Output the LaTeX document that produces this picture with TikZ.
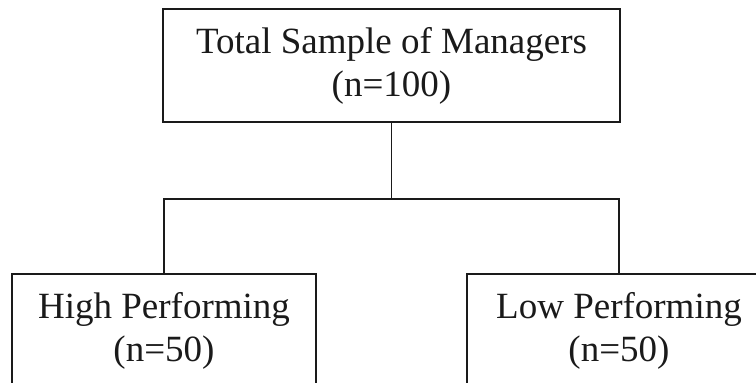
\documentclass[tikz,border=0pt]{standalone}
\usepackage{fontspec}
\setmainfont{Liberation Serif}
\usepackage{tikz}
\usetikzlibrary{positioning,calc}
\definecolor{Ink}{HTML}{1A1A1A}

\begin{document}
\begin{tikzpicture}[
  x=1pt,y=1pt,
  box/.style={draw=Ink,line width=1.8pt,inner sep=0pt,minimum height=113pt,align=center,text=Ink,font=\fontsize{37}{43}\selectfont},
  rootbox/.style={box,minimum width=457pt},
  groupbox/.style={box,minimum width=304pt},
  link/.style={draw=Ink,line width=1.8pt}
]
\useasboundingbox (0,0) rectangle (756,-383);
\clip (0,0) rectangle (756,-383);
\node[rootbox] (total) at (391.5,-65.5) {Total Sample of Managers\\(n=100)};
\node[groupbox] (high) at (164,-330.5) {High Performing\\(n=50)};
\node[groupbox] (low) at (619,-330.5) {Low Performing\\(n=50)};
\coordinate (split) at ($(total.south)+(0,-76)$);
\draw[link] (total.south) -- (split);
\draw[link] (split) -| (high.north);
\draw[link] (split) -| (low.north);
\end{tikzpicture}
\end{document}
